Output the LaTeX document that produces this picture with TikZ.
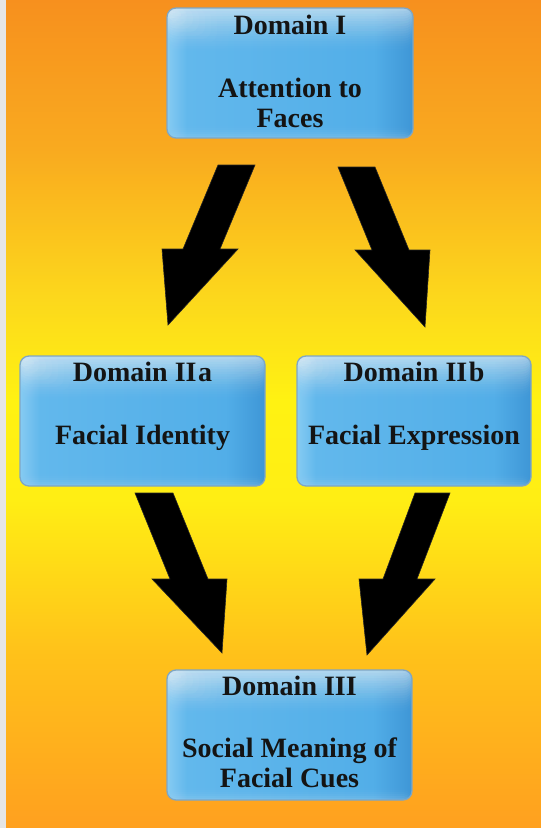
\documentclass[tikz,border=0pt]{standalone}
\usepackage{fontspec}
\setmainfont{Liberation Serif}
\usetikzlibrary{calc}
\definecolor{bg0}{HTML}{FFA01F}
\definecolor{bg1}{HTML}{FFC21A}
\definecolor{bg2}{HTML}{FFEE14}
\definecolor{bg3}{HTML}{FFF212}
\definecolor{bg4}{HTML}{FCD81C}
\definecolor{bg5}{HTML}{F9AA1F}
\definecolor{bg6}{HTML}{F7901E}
\definecolor{bxl}{HTML}{86CBF2}
\definecolor{bxa}{HTML}{62B8EC}
\definecolor{bxb}{HTML}{52AEE8}
\definecolor{bxr}{HTML}{3E96D6}
\definecolor{bxedge}{HTML}{7FA6C4}
\definecolor{txt}{HTML}{141414}
\definecolor{strip}{HTML}{E6E6E6}
\pgfdeclareverticalshading{bgshade}{100bp}{color(0bp)=(bg0); color(25bp)=(bg0); color(35.7bp)=(bg1); color(44.8bp)=(bg2); color(50.8bp)=(bg3); color(56.9bp)=(bg4); color(66bp)=(bg5); color(75bp)=(bg6); color(100bp)=(bg6)}
\pgfdeclarehorizontalshading{boxh}{100bp}{color(0bp)=(bxl); color(25bp)=(bxl); color(29bp)=(bxa); color(67bp)=(bxb); color(75bp)=(bxr); color(100bp)=(bxr)}
\tikzset{
  glossbox/.style={rounded corners=9pt, draw=bxedge, line width=1.3pt, inner sep=0pt,
    shade, shading=boxh,
    path picture={
      \foreach \k in {0,...,17}{
        \fill[white, opacity={0.085*(1-\k/18)}]
          (path picture bounding box.north west) rectangle
          ($(path picture bounding box.north east)+(0,{-(3+2.5*\k)*1pt})$);
      }
      \foreach \k in {0,...,9}{
        \fill[white, opacity={0.06*(1-\k/10)}]
          (path picture bounding box.north west) rectangle
          ($(path picture bounding box.north west)+({(8+6*\k)*1pt},{-(10+3.5*\k)*1pt})$);
      }
      \foreach \k in {0,...,5}{
        \fill[white, opacity={0.05*(1-\k/6)}]
          (path picture bounding box.south west) rectangle
          ($(path picture bounding box.south east)+(0,{(2+2*\k)*1pt})$);
      }
    }},
  ttl/.style={anchor=base, text=txt, font=\fontsize{28}{30}\selectfont\bfseries, inner sep=0pt},
  blockarrow/.style={fill=black, draw=black!85, line width=0.6pt, line join=miter}
}
\begin{document}
\begin{tikzpicture}[x=1pt,y=-1pt]
\useasboundingbox (0,0) rectangle (541,828);
\shade[shading=bgshade] (0,0) rectangle (541,828);
\fill[strip] (0,0) rectangle (6,828);

% boxes
\node[glossbox, minimum width=246pt, minimum height=130pt] (d1)  at (290,73) {};
\node[glossbox, minimum width=245pt, minimum height=130pt] (d2a) at (142.5,421) {};
\node[glossbox, minimum width=234pt, minimum height=130pt] (d2b) at (414,421) {};
\node[glossbox, minimum width=245pt, minimum height=130pt] (d3)  at (289.5,735) {};

% texts
\node[ttl] (t1)  at ($(d1.north)+(0,27)$) {Domain I};
\node[ttl] (b1a) at ($(d1.north)+(0,90)$) {Attention to};
\node[ttl] (b1b) at ($(d1.north)+(0,120)$) {Faces};
\node[ttl] (t2a) at ($(d2a.north)+(0,26)$) {Domain II\kern1.5pt a};
\node[ttl] (b2a) at ($(d2a.north)+(0,89)$) {Facial Identity};
\node[ttl] (t2b) at ($(d2b.north)+(0,26)$) {Domain II\kern1.5pt b};
\node[ttl] (b2b) at ($(d2b.north)+(0,89)$) {Facial Expression};
\node[ttl] (t3)  at ($(d3.north)+(0,26)$) {Domain III};
\node[ttl] (b3a) at ($(d3.north)+(0,88)$) {Social Meaning of};
\node[ttl] (b3b) at ($(d3.north)+(0,118)$) {Facial Cues};

% arrow 1: Domain I -> IIa
\coordinate (a1s) at (236.5,165);
\coordinate (a1t) at (168,325);
\fill[blockarrow] ($(a1s)+(-18.5,0)$) -- ($(a1s)+(18.5,0)$) -- (220,249) -- (238,249)
  -- (a1t) -- (162,249) -- (183,249) -- cycle;
% arrow 2: Domain I -> IIb
\coordinate (a2s) at (356.5,167);
\coordinate (a2t) at (425,327);
\fill[blockarrow] ($(a2s)+(-18.5,0)$) -- ($(a2s)+(18.5,0)$) -- (409,250) -- (430,250)
  -- (a2t) -- (355,250) -- (372,250) -- cycle;
% arrow 3: IIa -> III
\coordinate (a3s) at (154,493);
\coordinate (a3t) at (222,653);
\fill[blockarrow] ($(a3s)+(-19,0)$) -- ($(a3s)+(19,0)$) -- (208,579) -- (227,579)
  -- (a3t) -- (152,579) -- (170,579) -- cycle;
% arrow 4: IIb -> III
\coordinate (a4s) at (432.5,493);
\coordinate (a4t) at (367,655);
\fill[blockarrow] ($(a4s)+(-17.5,0)$) -- ($(a4s)+(17.5,0)$) -- (417,579) -- (435,579)
  -- (a4t) -- (359,579) -- (383,579) -- cycle;
\end{tikzpicture}
\end{document}
